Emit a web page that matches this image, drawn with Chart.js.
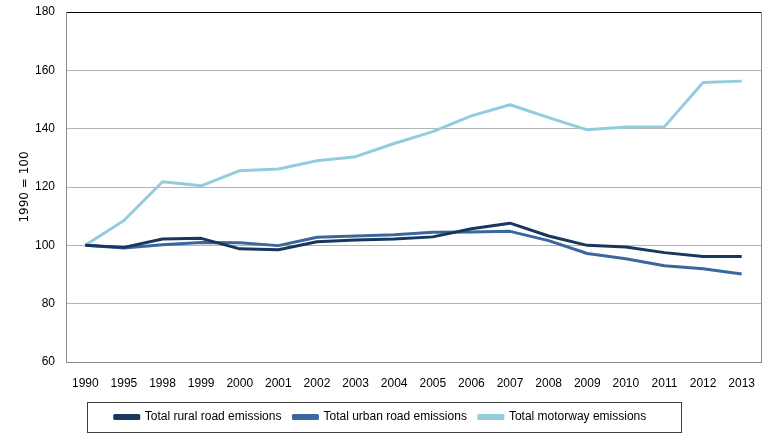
<!DOCTYPE html>
<html>
<head>
<meta charset="utf-8">
<script src="https://cdn.jsdelivr.net/npm/chart.js@4/dist/chart.umd.min.js"></script>
<style>
  html, body { margin: 0; padding: 0; background: #ffffff; }
  #wrap { width: 771px; height: 440px; position: relative; }
</style>
</head>
<body>
<div id="wrap"><canvas id="c"></canvas></div>
<script>
const years = ["1990","1995","1998","1999","2000","2001","2002","2003","2004","2005","2006","2007","2008","2009","2010","2011","2012","2013"];
const rural = [100, 99.3, 102.2, 102.4, 98.8, 98.5, 101.2, 101.8, 102.2, 102.9, 105.7, 107.6, 103.2, 100.0, 99.4, 97.5, 96.2, 96.2];
const urban = [100, 99.1, 100.2, 101.0, 100.9, 99.9, 102.8, 103.2, 103.6, 104.5, 104.6, 104.8, 101.6, 97.2, 95.4, 93.0, 92.0, 90.2];
const motorway = [100, 108.5, 121.8, 120.4, 125.6, 126.2, 129.0, 130.4, 134.9, 139.0, 144.4, 148.2, 143.8, 139.6, 140.6, 140.7, 155.8, 156.3];
const yTicks = [60, 80, 100, 120, 140, 160, 180];
const seriesNames = ["Total rural road emissions", "Total urban road emissions", "Total motorway emissions"];
const yTitle = "1990 = 100";

const narrow = "'Liberation Sans Narrow', 'Liberation Sans', sans-serif";

const frame = {
  id: 'frame',
  afterDraw(chart) {
    const ctx = chart.ctx;
    const a = chart.chartArea;
    ctx.save();
    ctx.strokeStyle = '#8c8c8c';
    ctx.lineWidth = 1;
    ctx.beginPath();
    ctx.moveTo(Math.round(a.right) + 0.5, a.top);
    ctx.lineTo(Math.round(a.right) + 0.5, a.bottom);
    ctx.stroke();
    // legend box
    const hb = chart.legend.legendHitBoxes;
    if (hb && hb.length) {
      let l = Infinity, r = -Infinity, t = Infinity, b = -Infinity;
      hb.forEach(h => { l = Math.min(l, h.left); r = Math.max(r, h.left + h.width); t = Math.min(t, h.top); b = Math.max(b, h.top + h.height); });
      const cy = (t + b) / 2;
      ctx.strokeStyle = '#404040';
      ctx.strokeRect(Math.round(l - 28) + 0.5, Math.round(cy - 15) + 0.5, Math.round(r - l + 62), 30);
    }
    ctx.restore();
  }
};

new Chart(document.getElementById('c'), {
  type: 'line',
  data: {
    labels: years,
    datasets: [
      { label: seriesNames[0], data: rural, borderColor: '#17375E', backgroundColor: '#17375E' },
      { label: seriesNames[1], data: urban, borderColor: '#3B679C', backgroundColor: '#3B679C' },
      { label: seriesNames[2], data: motorway, borderColor: '#93CDDD', backgroundColor: '#93CDDD' }
    ]
  },
  options: {
    responsive: true,
    maintainAspectRatio: false,
    animation: false,
    devicePixelRatio: 1,
    elements: {
      line: { borderWidth: 3, tension: 0, borderCapStyle: 'butt', borderJoinStyle: 'round' },
      point: { radius: 0, hoverRadius: 0 }
    },
    layout: { padding: { left: 0, right: 10, top: 12, bottom: 7 } },
    plugins: {
      tooltip: { enabled: false },
      legend: {
        position: 'bottom',
        labels: {
          font: { family: narrow, size: 12 },
          color: '#000000',
          boxWidth: 24,
          boxHeight: 3,
          padding: 12
        }
      }
    },
    scales: {
      x: {
        offset: true,
        grid: { display: false },
        border: { display: true, color: '#8c8c8c' },
        ticks: { font: { family: narrow, size: 12 }, color: '#000000', maxRotation: 0, autoSkip: false, padding: 6 },
        afterFit(s) { s.height = 37; }
      },
      y: {
        min: 60,
        max: 180,
        afterBuildTicks(s) { s.ticks = yTicks.map(v => ({ value: v })); },
        grid: {
          color: ctx => ctx.tick && ctx.tick.value === 180 ? '#000000' : '#b4b4b4',
          drawTicks: false
        },
        border: { display: true, color: '#8c8c8c' },
        ticks: { font: { family: narrow, size: 12 }, color: '#000000', padding: 11 },
        title: { display: true, text: yTitle, font: { family: "'DejaVu Sans', sans-serif", size: 12 }, color: '#000000', padding: { top: 18, bottom: 0 } },
        afterFit(s) { s.width = 66; s.paddingTop = 0; s.paddingBottom = 0; }
      }
    }
  },
  plugins: [frame]
});
</script>
</body>
</html>
